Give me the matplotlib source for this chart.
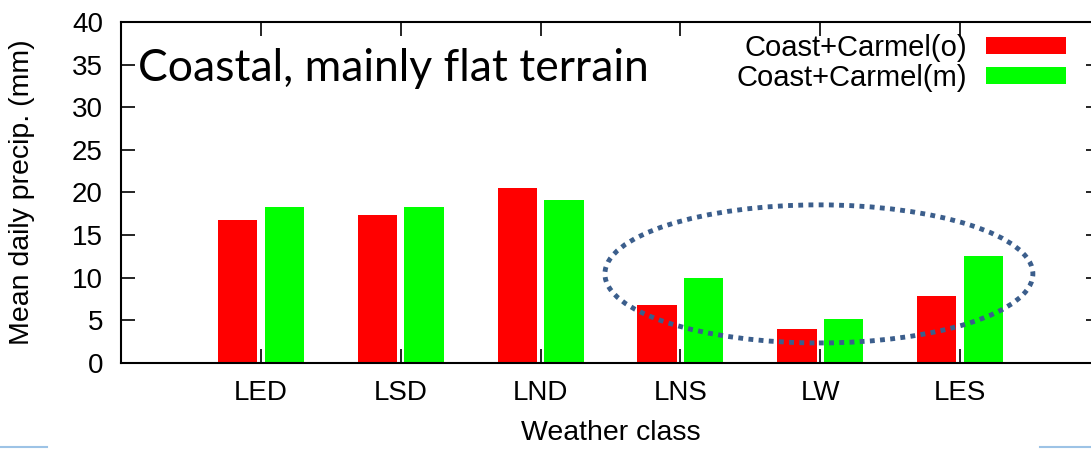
import matplotlib
matplotlib.use("Agg")
import matplotlib.pyplot as plt
import numpy as np
from matplotlib.patches import Ellipse
from matplotlib.lines import Line2D

# data
classes = ["LED", "LSD", "LND", "LNS", "LW", "LES"]
observed = [16.8, 17.4, 20.5, 6.8, 4.0, 7.9]
model = [18.3, 18.3, 19.1, 10.0, 5.2, 12.6]
labels = ["Coast+Carmel(o)", "Coast+Carmel(m)"]
colors = ["#ff0000", "#00ff00"]

plt.rcParams["font.family"] = ["Liberation Sans", "DejaVu Sans"]

fig = plt.figure(figsize=(10.91, 4.49), dpi=100)
ax = fig.add_axes([121 / 1091, 86 / 449, 979 / 1091, 341 / 449])

x = np.arange(1, len(classes) + 1)
w = 0.28
b1 = ax.bar(x - 0.167, observed, w, color=colors[0], label=labels[0])
b2 = ax.bar(x + 0.167, model, w, color=colors[1], label=labels[1])

ax.set_xlim(0, 7)
ax.set_ylim(0, 40)
ax.set_yticks(range(0, 41, 5))
ax.set_xticks(x)
ax.set_xticklabels(classes)
ax.tick_params(axis="both", direction="in", length=10, width=1.2,
               labelsize=20, top=True, right=True)
ax.tick_params(axis="y", pad=13)
ax.tick_params(axis="x", pad=12)
for s in ax.spines.values():
    s.set_linewidth(1.5)

ax.set_ylabel("Mean daily precip. (mm)", fontsize=20.5)
ax.yaxis.set_label_coords(-0.088, 0.5)
ax.set_xlabel("Weather class", fontsize=20.5)
ax.xaxis.set_label_coords(0.5, -0.168)

ax.text(0.017, 0.865, "Coastal, mainly flat terrain", transform=ax.transAxes,
        fontsize=32, family="Lato", va="center", ha="left")

# gnuplot style key: text then swatch
leg = ax.legend(handles=[b1, b2], loc="upper right", bbox_to_anchor=(0.977, 1.0),
                markerfirst=False, frameon=False, fontsize=21,
                handlelength=2.75, handleheight=0.52, handletextpad=0.65,
                labelspacing=0.08, borderaxespad=0)

# dotted ellipse highlighting the last three classes
ell = Ellipse((4.99, 10.45), 3.06, 16.2, fill=False, edgecolor="#3b5e8c",
              linewidth=3.5, linestyle=(0, (1, 1.1)))
ax.add_patch(ell)

# small slide artefacts at the bottom
fig.add_artist(Line2D([0, 47 / 1091], [2 / 449, 2 / 449], color="#9dc3e6", lw=1.5))
fig.add_artist(Line2D([1040 / 1091, 1], [2 / 449, 2 / 449], color="#9dc3e6", lw=1.5))

fig.savefig("out.png", dpi=100)
